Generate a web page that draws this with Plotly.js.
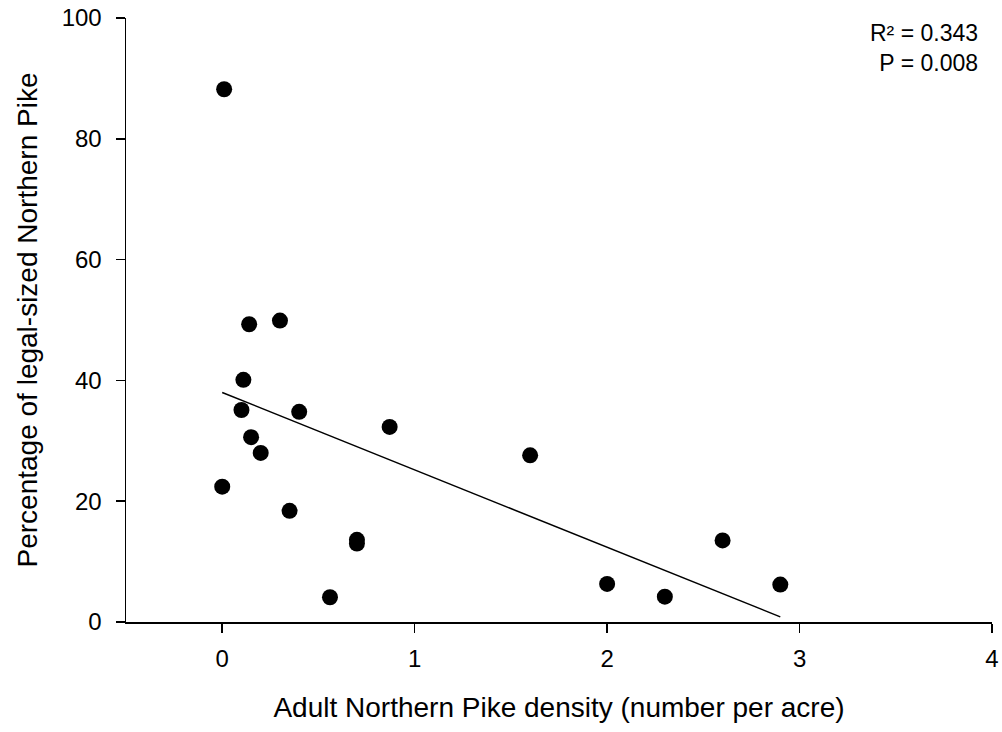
<!DOCTYPE html>
<html>
<head>
<meta charset="utf-8">
<script src="https://cdn.plot.ly/plotly-3.0.1.min.js"></script>
<style>
  html, body { margin: 0; padding: 0; background: #fff; }
  #chart { width: 1002px; height: 732px; }
</style>
</head>
<body>
<div id="chart"></div>
<script>
// Adult pike density (fish per acre) and share of legal-sized pike (%) per lake
const density = [0.01, 0.14, 0.30, 0.11, 0.10, 0.40, 0.15, 0.20, 0.00, 0.35,
                 0.70, 0.70, 0.87, 0.56, 1.60, 2.00, 2.30, 2.60, 2.90];
const legalPct = [88.2, 49.3, 49.9, 40.1, 35.1, 34.8, 30.6, 28.0, 22.4, 18.4,
                  13.6, 13.0, 32.3, 4.1, 27.6, 6.3, 4.2, 13.5, 6.2];

// Fitted regression line endpoints
const fitX = [0.0, 2.9];
const fitY = [38.0, 0.85];

// Fit statistics
const rSquared = '0.343';
const pValue = '0.008';

const xTicks = [0, 1, 2, 3, 4];
const yTicks = [0, 20, 40, 60, 80, 100];

const FONT = 'Arial, "Liberation Sans", sans-serif';

const traces = [
  {
    x: fitX, y: fitY, type: 'scatter', mode: 'lines',
    line: { color: '#000', width: 1.5 },
    hoverinfo: 'skip'
  },
  {
    x: density, y: legalPct, type: 'scatter', mode: 'markers',
    marker: { color: '#000', size: 16, line: { width: 0 } }
  }
];

const layout = {
  width: 1002, height: 732,
  margin: { l: 126, r: 10, t: 18, b: 110 },
  paper_bgcolor: '#fff', plot_bgcolor: '#fff',
  showlegend: false,
  font: { family: FONT, color: '#000', size: 24 },
  xaxis: {
    range: [-0.5, 4],
    tickvals: xTicks, ticktext: xTicks.map(String),
    showgrid: false, zeroline: false,
    showline: true, linecolor: '#000', linewidth: 1.5,
    ticks: 'outside', ticklen: 9, tickwidth: 1.5, tickcolor: '#000',
    ticklabelstandoff: 6,
    tickfont: { size: 24, family: FONT },
    title: { text: 'Adult Northern Pike density (number per acre)', font: { size: 28, family: FONT }, standoff: 26 }
  },
  yaxis: {
    range: [0, 100],
    tickvals: yTicks, ticktext: yTicks.map(String),
    showgrid: false, zeroline: false,
    showline: true, linecolor: '#000', linewidth: 1.5,
    ticks: 'outside', ticklen: 9, tickwidth: 1.5, tickcolor: '#000',
    ticklabelstandoff: 9,
    tickfont: { size: 24, family: FONT },
    title: { text: 'Percentage of legal-sized Northern Pike', font: { size: 28, family: FONT }, standoff: 16 }
  },
  annotations: [
    {
      xref: 'paper', yref: 'paper', x: 1, y: 1, xanchor: 'right', yanchor: 'top',
      xshift: -12, yshift: 0,
      text: 'R² = ' + rSquared + '<br>P = ' + pValue,
      align: 'right', showarrow: false,
      font: { size: 23, family: FONT }
    }
  ]
};

Plotly.newPlot('chart', traces, layout, { displayModeBar: false, staticPlot: true });
</script>
</body>
</html>
